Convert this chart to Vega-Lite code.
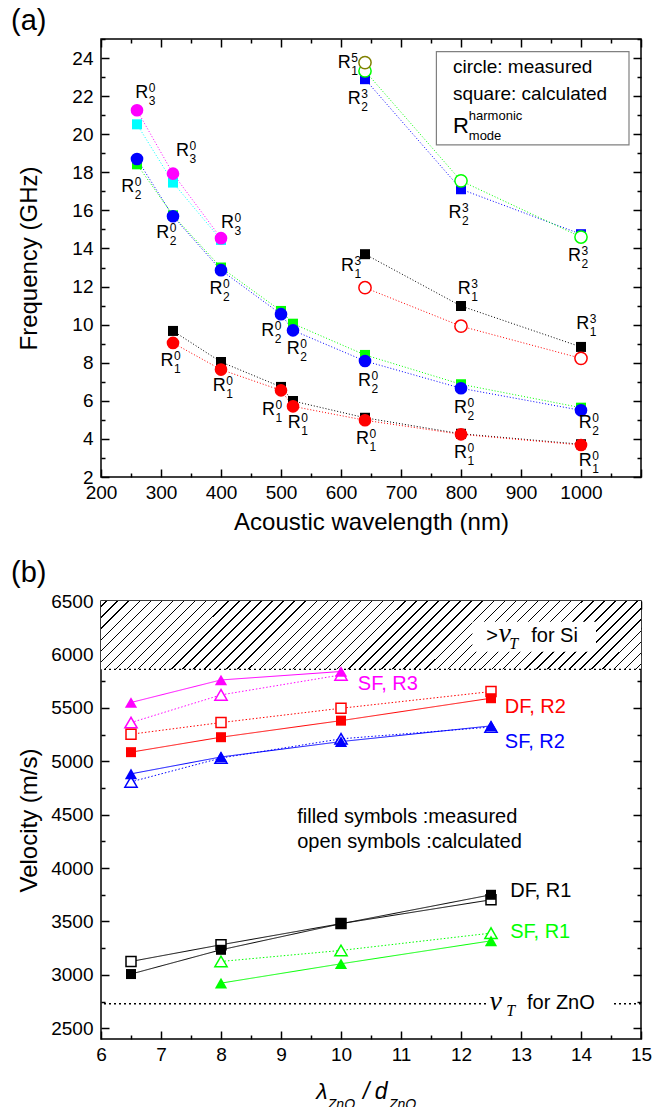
{
"$schema":"https://vega.github.io/schema/vega-lite/v6.json",
"background":"white",
"padding":{"left":10,"top":6,"right":5,"bottom":0},
"spacing":23,
"config":{
 "view":{"stroke":"black","strokeWidth":1.5},
 "font":"Liberation Sans",
 "axis":{"grid":false,"domain":false,"tickColor":"black","tickWidth":1.5,"labelFont":"Liberation Sans","labelFontSize":19,"labelColor":"black","titleFont":"Liberation Sans","titleFontSize":24,"titleFontWeight":"normal","titleColor":"black","labelFlush":false,"labelOverlap":false,"labelBound":false,"format":"d"},
 "title":{"font":"Liberation Sans","fontSize":29,"fontWeight":"normal","anchor":"start","frame":"group","dx":-90,"color":"black"}
},
"resolve":{"scale":{"color":"independent","shape":"independent","size":"independent","strokeDash":"independent"}},
"datasets":{
 "a":[
  {"s":"a_R3m","x":260,"y":21.26,"shp":"c","f":true},{"s":"a_R3m","x":320,"y":17.93,"shp":"c","f":true},{"s":"a_R3m","x":400,"y":14.54,"shp":"c","f":true},
  {"s":"a_R3c","x":260,"y":20.52,"shp":"s","f":true},{"s":"a_R3c","x":320,"y":17.46,"shp":"s","f":true},{"s":"a_R3c","x":400,"y":14.45,"shp":"s","f":true},
  {"s":"a_R2m","x":260,"y":18.7,"shp":"c","f":true},{"s":"a_R2m","x":320,"y":15.69,"shp":"c","f":true},{"s":"a_R2m","x":400,"y":12.86,"shp":"c","f":true},{"s":"a_R2m","x":500,"y":10.55,"shp":"c","f":true},{"s":"a_R2m","x":520,"y":9.7,"shp":"c","f":true},{"s":"a_R2m","x":640,"y":8.09,"shp":"c","f":true},{"s":"a_R2m","x":800,"y":6.66,"shp":"c","f":true},{"s":"a_R2m","x":1000,"y":5.5,"shp":"c","f":true},
  {"s":"a_R2c","x":260,"y":18.42,"shp":"s","f":true},{"s":"a_R2c","x":320,"y":15.74,"shp":"s","f":true},{"s":"a_R2c","x":400,"y":13.0,"shp":"s","f":true},{"s":"a_R2c","x":500,"y":10.72,"shp":"s","f":true},{"s":"a_R2c","x":520,"y":10.05,"shp":"s","f":true},{"s":"a_R2c","x":640,"y":8.41,"shp":"s","f":true},{"s":"a_R2c","x":800,"y":6.87,"shp":"s","f":true},{"s":"a_R2c","x":1000,"y":5.64,"shp":"s","f":true},
  {"s":"a_R1c","x":320,"y":9.67,"shp":"s","f":true},{"s":"a_R1c","x":400,"y":8.04,"shp":"s","f":true},{"s":"a_R1c","x":500,"y":6.73,"shp":"s","f":true},{"s":"a_R1c","x":520,"y":5.99,"shp":"s","f":true},{"s":"a_R1c","x":640,"y":5.11,"shp":"s","f":true},{"s":"a_R1c","x":800,"y":4.27,"shp":"s","f":true},{"s":"a_R1c","x":1000,"y":3.72,"shp":"s","f":true},
  {"s":"a_R1m","x":320,"y":9.04,"shp":"c","f":true},{"s":"a_R1m","x":400,"y":7.64,"shp":"c","f":true},{"s":"a_R1m","x":500,"y":6.55,"shp":"c","f":true},{"s":"a_R1m","x":520,"y":5.71,"shp":"c","f":true},{"s":"a_R1m","x":640,"y":4.98,"shp":"c","f":true},{"s":"a_R1m","x":800,"y":4.24,"shp":"c","f":true},{"s":"a_R1m","x":1000,"y":3.68,"shp":"c","f":true},
  {"s":"a_R13c","x":640,"y":13.7,"shp":"s","f":true},{"s":"a_R13c","x":800,"y":10.98,"shp":"s","f":true},{"s":"a_R13c","x":1000,"y":8.83,"shp":"s","f":true},
  {"s":"a_R13m","x":640,"y":11.94,"shp":"c","f":false},{"s":"a_R13m","x":800,"y":9.92,"shp":"c","f":false},{"s":"a_R13m","x":1000,"y":8.23,"shp":"c","f":false},
  {"s":"a_R23c","x":640,"y":22.89,"shp":"s","f":true},{"s":"a_R23c","x":800,"y":17.11,"shp":"s","f":true},{"s":"a_R23c","x":1000,"y":14.75,"shp":"s","f":true},
  {"s":"a_R23m","x":640,"y":23.32,"shp":"c","f":false},{"s":"a_R23m","x":800,"y":17.55,"shp":"c","f":false},{"s":"a_R23m","x":1000,"y":14.6,"shp":"c","f":false},
  {"s":"a_R15m","x":640,"y":23.76,"shp":"c","f":false}
 ],
 "alab":[
  {"x":268,"y":22.18,"h":"0","m":"3"},{"x":336,"y":19.12,"h":"0","m":"3"},{"x":411,"y":15.36,"h":"0","m":"3"},
  {"x":244.5,"y":17.23,"h":"0","m":"2"},{"x":303,"y":14.83,"h":"0","m":"2"},{"x":391.5,"y":11.86,"h":"0","m":"2"},{"x":478,"y":9.67,"h":"0","m":"2"},{"x":520.5,"y":8.71,"h":"0","m":"2"},
  {"x":310,"y":8.09,"h":"0","m":"1"},{"x":397,"y":6.78,"h":"0","m":"1"},{"x":479,"y":5.5,"h":"0","m":"1"},{"x":522,"y":4.85,"h":"0","m":"1"},
  {"x":639,"y":7.04,"h":"0","m":"2"},{"x":636,"y":3.98,"h":"0","m":"1"},{"x":799,"y":5.61,"h":"0","m":"2"},{"x":799,"y":3.28,"h":"0","m":"1"},{"x":1007,"y":4.85,"h":"0","m":"2"},{"x":1007,"y":2.84,"h":"0","m":"1"},
  {"x":1003,"y":10.02,"h":"3","m":"1"},{"x":805.5,"y":11.86,"h":"3","m":"1"},{"x":605.5,"y":23.76,"h":"5","m":"1"},{"x":622,"y":21.84,"h":"3","m":"2"},{"x":790,"y":15.88,"h":"3","m":"2"},{"x":989,"y":13.61,"h":"3","m":"2"},{"x":611,"y":13.08,"h":"3","m":"1"}
 ],
 "aleg":[
  {"t":"circle: measured","x":786.6,"y":23.53,"k":"n"},{"t":"square: calculated","x":786.6,"y":22.13,"k":"n"},{"t":"R","x":786.6,"y":20.43,"k":"R"},{"t":"harmonic","x":813,"y":20.96,"k":"s"},{"t":"mode","x":813,"y":19.91,"k":"s"}
 ],
 "b":[
  {"s":"b_SF3c","x":6.5,"y":5362,"shp":"t","f":false,"d":"dot"},{"s":"b_SF3c","x":8,"y":5621,"shp":"t","f":false,"d":"dot"},{"s":"b_SF3c","x":10,"y":5808,"shp":"t","f":false,"d":"dot"},
  {"s":"b_SF3m","x":6.5,"y":5550,"shp":"t","f":true,"d":"solid"},{"s":"b_SF3m","x":8,"y":5761,"shp":"t","f":true,"d":"solid"},{"s":"b_SF3m","x":10,"y":5840,"shp":"t","f":true,"d":"solid"},
  {"s":"b_DF2c","x":6.5,"y":5253,"shp":"s","f":false,"d":"dot"},{"s":"b_DF2c","x":8,"y":5362,"shp":"s","f":false,"d":"dot"},{"s":"b_DF2c","x":10,"y":5496,"shp":"s","f":false,"d":"dot"},{"s":"b_DF2c","x":12.5,"y":5652,"shp":"s","f":false,"d":"dot"},
  {"s":"b_DF2m","x":6.5,"y":5085,"shp":"s","f":true,"d":"solid"},{"s":"b_DF2m","x":8,"y":5225,"shp":"s","f":true,"d":"solid"},{"s":"b_DF2m","x":10,"y":5380,"shp":"s","f":true,"d":"solid"},{"s":"b_DF2m","x":12.5,"y":5590,"shp":"s","f":true,"d":"solid"},
  {"s":"b_SF2c","x":6.5,"y":4807,"shp":"t","f":false,"d":"dot"},{"s":"b_SF2c","x":8,"y":5030,"shp":"t","f":false,"d":"dot"},{"s":"b_SF2c","x":10,"y":5210,"shp":"t","f":false,"d":"dot"},{"s":"b_SF2c","x":12.5,"y":5320,"shp":"t","f":false,"d":"dot"},
  {"s":"b_SF2m","x":6.5,"y":4882,"shp":"t","f":true,"d":"solid"},{"s":"b_SF2m","x":8,"y":5040,"shp":"t","f":true,"d":"solid"},{"s":"b_SF2m","x":10,"y":5184,"shp":"t","f":true,"d":"solid"},{"s":"b_SF2m","x":12.5,"y":5331,"shp":"t","f":true,"d":"solid"},
  {"s":"b_DF1c","x":6.5,"y":3126,"shp":"s","f":false,"d":"solid"},{"s":"b_DF1c","x":8,"y":3282,"shp":"s","f":false,"d":"solid"},{"s":"b_DF1c","x":10,"y":3480,"shp":"s","f":false,"d":"solid"},{"s":"b_DF1c","x":12.5,"y":3703,"shp":"s","f":false,"d":"solid"},
  {"s":"b_DF1m","x":6.5,"y":3008,"shp":"s","f":true,"d":"solid"},{"s":"b_DF1m","x":8,"y":3235,"shp":"s","f":true,"d":"solid"},{"s":"b_DF1m","x":10,"y":3479,"shp":"s","f":true,"d":"solid"},{"s":"b_DF1m","x":12.5,"y":3750,"shp":"s","f":true,"d":"solid"},
  {"s":"b_SF1c","x":8,"y":3126,"shp":"t","f":false,"d":"dot"},{"s":"b_SF1c","x":10,"y":3229,"shp":"t","f":false,"d":"dot"},{"s":"b_SF1c","x":12.5,"y":3391,"shp":"t","f":false,"d":"dot"},
  {"s":"b_SF1m","x":8,"y":2923,"shp":"t","f":true,"d":"solid"},{"s":"b_SF1m","x":10,"y":3104,"shp":"t","f":true,"d":"solid"},{"s":"b_SF1m","x":12.5,"y":3319,"shp":"t","f":true,"d":"solid"}
 ],
 "bt":[
  {"t":"SF, R3","x":10.28,"y":5724,"s":"b_SF3m"},{"t":"DF, R2","x":12.73,"y":5511,"s":"b_DF2m"},{"t":"SF, R2","x":12.73,"y":5184,"s":"b_SF2m"},
  {"t":"DF, R1","x":12.82,"y":3787,"s":"b_DF1m"},{"t":"SF, R1","x":12.82,"y":3397,"s":"b_SF1m"},
  {"t":"filled symbols :measured","x":9.27,"y":4477,"s":"b_DF1m"},{"t":"open symbols :calculated","x":9.27,"y":4248,"s":"b_DF1m"},
  {"t":">","x":12.42,"y":6173,"s":"b_DF1m"},{"t":"for Si","x":13.17,"y":6173,"s":"b_DF1m"},{"t":"for ZnO","x":13.1,"y":2735,"s":"b_DF1m"}
 ],
 "bv":[{"x":12.73,"y":6119},{"x":12.58,"y":2674}],
 "bT":[{"x":12.88,"y":6098},{"x":12.83,"y":2665}],
 "bl":[{"t":"λ","x":9.68,"y":1907},{"t":"/","x":10.42,"y":1907},{"t":"d","x":10.67,"y":1907}],
 "bs":[{"t":"ZnO","x":9.78,"y":1785},{"t":"ZnO","x":10.8,"y":1785}]
},
"vconcat":[
{
 "title":{"text":"(a)","offset":-6},
 "width":540,"height":438,
 "resolve":{"axis":{"x":"independent","y":"independent"}},
 "layer":[
  {"data":{"values":[{}]},"mark":{"type":"rect","fill":"white","stroke":"#808080","strokeWidth":1.2},
   "encoding":{"x":{"datum":759,"type":"quantitative","axis":null,"scale":{"domain":[200,1100],"nice":false,"zero":false}},"x2":{"datum":1080},"y":{"datum":24.34,"type":"quantitative","axis":null,"scale":{"domain":[2,25],"nice":false,"zero":false}},"y2":{"datum":19.44}}},
  {"data":{"name":"a"},"mark":{"type":"line","strokeWidth":1,"strokeDash":[1,2]},
   "encoding":{
    "x":{"field":"x","type":"quantitative","scale":{"domain":[200,1100],"nice":false,"zero":false},
     "axis":{"orient":"bottom","values":[200,250,300,350,400,450,500,550,600,650,700,750,800,850,900,950,1000,1050,1100],"tickSize":{"condition":{"test":"datum.value % 100 === 0","value":-8},"value":-4},"labelExpr":"datum.value % 100 === 0 && datum.value <= 1000 ? datum.label : ''","labelPadding":14,"title":"Acoustic wavelength (nm)","titleY":45,"titleBaseline":"middle"}},
    "y":{"field":"y","type":"quantitative","scale":{"domain":[2,25],"nice":false,"zero":false},
     "axis":{"orient":"left","values":[2,3,4,5,6,7,8,9,10,11,12,13,14,15,16,17,18,19,20,21,22,23,24,25],"tickSize":{"condition":{"test":"datum.value % 2 === 0","value":-8},"value":-4},"labelExpr":"datum.value % 2 === 0 ? datum.label : ''","labelPadding":16,"title":"Frequency (GHz)","titleX":-72,"titleY":219,"titleAngle":-90,"titleAlign":"center","titleBaseline":"middle"}},
    "color":{"field":"s","type":"nominal","legend":null,"scale":{"domain":["a_R3m","a_R3c","a_R2m","a_R2c","a_R1c","a_R1m","a_R13c","a_R13m","a_R23c","a_R23m","a_R15m"],"range":["#ff00ff","#00ffff","#0000ff","#00ff00","#000000","#ff0000","#000000","#ff0000","#0000ff","#00ff00","#808000"]}}
   }},
  {"data":{"name":"a"},"transform":[{"filter":"datum.shp === 's'"}],"mark":{"type":"square","size":100,"opacity":1},
   "encoding":{"x":{"field":"x","type":"quantitative","axis":null},"y":{"field":"y","type":"quantitative","axis":null},
    "color":{"field":"s","type":"nominal","legend":null,"scale":{"domain":["a_R3m","a_R3c","a_R2m","a_R2c","a_R1c","a_R1m","a_R13c","a_R13m","a_R23c","a_R23m","a_R15m"],"range":["#ff00ff","#00ffff","#0000ff","#00ff00","#000000","#ff0000","#000000","#ff0000","#0000ff","#00ff00","#808000"]}}}},
  {"data":{"name":"a"},"transform":[{"filter":"datum.shp === 'c' && datum.f"}],"mark":{"type":"circle","size":160,"opacity":1},
   "encoding":{"x":{"field":"x","type":"quantitative","axis":null},"y":{"field":"y","type":"quantitative","axis":null},
    "color":{"field":"s","type":"nominal","legend":null,"scale":{"domain":["a_R3m","a_R3c","a_R2m","a_R2c","a_R1c","a_R1m","a_R13c","a_R13m","a_R23c","a_R23m","a_R15m"],"range":["#ff00ff","#00ffff","#0000ff","#00ff00","#000000","#ff0000","#000000","#ff0000","#0000ff","#00ff00","#808000"]}}}},
  {"data":{"name":"a"},"transform":[{"filter":"datum.shp === 'c' && !datum.f"}],"mark":{"type":"point","shape":"circle","filled":false,"fill":"white","size":150,"strokeWidth":1.5,"opacity":1},
   "encoding":{"x":{"field":"x","type":"quantitative","axis":null},"y":{"field":"y","type":"quantitative","axis":null},
    "color":{"field":"s","type":"nominal","legend":null,"scale":{"domain":["a_R3m","a_R3c","a_R2m","a_R2c","a_R1c","a_R1m","a_R13c","a_R13m","a_R23c","a_R23m","a_R15m"],"range":["#ff00ff","#00ffff","#0000ff","#00ff00","#000000","#ff0000","#000000","#ff0000","#0000ff","#00ff00","#808000"]}}}},
  {"data":{"name":"aleg"},"transform":[{"filter":"datum.k === 'n'"}],"mark":{"type":"text","fontSize":19,"align":"left","baseline":"middle","color":"black"},
   "encoding":{"x":{"field":"x","type":"quantitative","axis":null},"y":{"field":"y","type":"quantitative","axis":null},"text":{"field":"t"}}},
  {"data":{"name":"aleg"},"transform":[{"filter":"datum.k === 'R'"}],"mark":{"type":"text","fontSize":22,"align":"left","baseline":"middle","color":"black"},
   "encoding":{"x":{"field":"x","type":"quantitative","axis":null},"y":{"field":"y","type":"quantitative","axis":null},"text":{"field":"t"}}},
  {"data":{"name":"aleg"},"transform":[{"filter":"datum.k === 's'"}],"mark":{"type":"text","fontSize":13,"align":"left","baseline":"middle","color":"black"},
   "encoding":{"x":{"field":"x","type":"quantitative","axis":null},"y":{"field":"y","type":"quantitative","axis":null},"text":{"field":"t"}}},
  {"data":{"name":"alab"},"mark":{"type":"text","fontSize":18,"align":"center","baseline":"middle","color":"black","text":"R"},
   "encoding":{"x":{"field":"x","type":"quantitative","axis":null},"y":{"field":"y","type":"quantitative","axis":null}}},
  {"data":{"name":"alab"},"mark":{"type":"text","fontSize":12,"align":"left","baseline":"middle","color":"black","dx":7,"dy":-5},
   "encoding":{"x":{"field":"x","type":"quantitative","axis":null},"y":{"field":"y","type":"quantitative","axis":null},"text":{"field":"h"}}},
  {"data":{"name":"alab"},"mark":{"type":"text","fontSize":12,"align":"left","baseline":"middle","color":"black","dx":7,"dy":8},
   "encoding":{"x":{"field":"x","type":"quantitative","axis":null},"y":{"field":"y","type":"quantitative","axis":null},"text":{"field":"m"}}},
  {"data":{"name":"a"},"mark":{"type":"point","opacity":0},
   "encoding":{
    "x":{"field":"x","type":"quantitative","axis":{"orient":"top","values":[200,250,300,350,400,450,500,550,600,650,700,750,800,850,900,950,1000,1050,1100],"tickSize":{"condition":{"test":"datum.value % 100 === 0","value":-8},"value":-4},"labels":false,"title":null}},
    "y":{"field":"y","type":"quantitative","axis":{"orient":"right","values":[2,3,4,5,6,7,8,9,10,11,12,13,14,15,16,17,18,19,20,21,22,23,24,25],"tickSize":{"condition":{"test":"datum.value % 2 === 0","value":-8},"value":-4},"labels":false,"title":null}}}}
 ]
},
{
 "title":{"text":"(b)","offset":4},
 "width":540,"height":438,
 "resolve":{"axis":{"x":"independent","y":"independent"}},
 "layer":[
  {"data":{"values":[{}]},"mark":{"type":"rect","fill":{"gradient":"linear","x1":0,"y1":0,"x2":1.1089,"y2":0.1405,"stops":[
{"offset":0.008,"color":"#fff"},{"offset":0.008,"color":"#000"},{"offset":0.0104,"color":"#000"},{"offset":0.0104,"color":"#fff"},
{"offset":0.02618,"color":"#fff"},{"offset":0.02618,"color":"#000"},{"offset":0.02858,"color":"#000"},{"offset":0.02858,"color":"#fff"},
{"offset":0.04436,"color":"#fff"},{"offset":0.04436,"color":"#000"},{"offset":0.04676,"color":"#000"},{"offset":0.04676,"color":"#fff"},
{"offset":0.06255,"color":"#fff"},{"offset":0.06255,"color":"#000"},{"offset":0.06495,"color":"#000"},{"offset":0.06495,"color":"#fff"},
{"offset":0.08073,"color":"#fff"},{"offset":0.08073,"color":"#000"},{"offset":0.08313,"color":"#000"},{"offset":0.08313,"color":"#fff"},
{"offset":0.09891,"color":"#fff"},{"offset":0.09891,"color":"#000"},{"offset":0.10131,"color":"#000"},{"offset":0.10131,"color":"#fff"},
{"offset":0.11709,"color":"#fff"},{"offset":0.11709,"color":"#000"},{"offset":0.11949,"color":"#000"},{"offset":0.11949,"color":"#fff"},
{"offset":0.13527,"color":"#fff"},{"offset":0.13527,"color":"#000"},{"offset":0.13767,"color":"#000"},{"offset":0.13767,"color":"#fff"},
{"offset":0.15345,"color":"#fff"},{"offset":0.15345,"color":"#000"},{"offset":0.15585,"color":"#000"},{"offset":0.15585,"color":"#fff"},
{"offset":0.17164,"color":"#fff"},{"offset":0.17164,"color":"#000"},{"offset":0.17404,"color":"#000"},{"offset":0.17404,"color":"#fff"},
{"offset":0.18982,"color":"#fff"},{"offset":0.18982,"color":"#000"},{"offset":0.19222,"color":"#000"},{"offset":0.19222,"color":"#fff"},
{"offset":0.208,"color":"#fff"},{"offset":0.208,"color":"#000"},{"offset":0.2104,"color":"#000"},{"offset":0.2104,"color":"#fff"},
{"offset":0.22618,"color":"#fff"},{"offset":0.22618,"color":"#000"},{"offset":0.22858,"color":"#000"},{"offset":0.22858,"color":"#fff"},
{"offset":0.24436,"color":"#fff"},{"offset":0.24436,"color":"#000"},{"offset":0.24676,"color":"#000"},{"offset":0.24676,"color":"#fff"},
{"offset":0.26255,"color":"#fff"},{"offset":0.26255,"color":"#000"},{"offset":0.26495,"color":"#000"},{"offset":0.26495,"color":"#fff"},
{"offset":0.28073,"color":"#fff"},{"offset":0.28073,"color":"#000"},{"offset":0.28313,"color":"#000"},{"offset":0.28313,"color":"#fff"},
{"offset":0.29891,"color":"#fff"},{"offset":0.29891,"color":"#000"},{"offset":0.30131,"color":"#000"},{"offset":0.30131,"color":"#fff"},
{"offset":0.31709,"color":"#fff"},{"offset":0.31709,"color":"#000"},{"offset":0.31949,"color":"#000"},{"offset":0.31949,"color":"#fff"},
{"offset":0.33527,"color":"#fff"},{"offset":0.33527,"color":"#000"},{"offset":0.33767,"color":"#000"},{"offset":0.33767,"color":"#fff"},
{"offset":0.35345,"color":"#fff"},{"offset":0.35345,"color":"#000"},{"offset":0.35585,"color":"#000"},{"offset":0.35585,"color":"#fff"},
{"offset":0.37164,"color":"#fff"},{"offset":0.37164,"color":"#000"},{"offset":0.37404,"color":"#000"},{"offset":0.37404,"color":"#fff"},
{"offset":0.38982,"color":"#fff"},{"offset":0.38982,"color":"#000"},{"offset":0.39222,"color":"#000"},{"offset":0.39222,"color":"#fff"},
{"offset":0.408,"color":"#fff"},{"offset":0.408,"color":"#000"},{"offset":0.4104,"color":"#000"},{"offset":0.4104,"color":"#fff"},
{"offset":0.42618,"color":"#fff"},{"offset":0.42618,"color":"#000"},{"offset":0.42858,"color":"#000"},{"offset":0.42858,"color":"#fff"},
{"offset":0.44436,"color":"#fff"},{"offset":0.44436,"color":"#000"},{"offset":0.44676,"color":"#000"},{"offset":0.44676,"color":"#fff"},
{"offset":0.46255,"color":"#fff"},{"offset":0.46255,"color":"#000"},{"offset":0.46495,"color":"#000"},{"offset":0.46495,"color":"#fff"},
{"offset":0.48073,"color":"#fff"},{"offset":0.48073,"color":"#000"},{"offset":0.48313,"color":"#000"},{"offset":0.48313,"color":"#fff"},
{"offset":0.49891,"color":"#fff"},{"offset":0.49891,"color":"#000"},{"offset":0.50131,"color":"#000"},{"offset":0.50131,"color":"#fff"},
{"offset":0.51709,"color":"#fff"},{"offset":0.51709,"color":"#000"},{"offset":0.51949,"color":"#000"},{"offset":0.51949,"color":"#fff"},
{"offset":0.53527,"color":"#fff"},{"offset":0.53527,"color":"#000"},{"offset":0.53767,"color":"#000"},{"offset":0.53767,"color":"#fff"},
{"offset":0.55345,"color":"#fff"},{"offset":0.55345,"color":"#000"},{"offset":0.55585,"color":"#000"},{"offset":0.55585,"color":"#fff"},
{"offset":0.57164,"color":"#fff"},{"offset":0.57164,"color":"#000"},{"offset":0.57404,"color":"#000"},{"offset":0.57404,"color":"#fff"},
{"offset":0.58982,"color":"#fff"},{"offset":0.58982,"color":"#000"},{"offset":0.59222,"color":"#000"},{"offset":0.59222,"color":"#fff"},
{"offset":0.608,"color":"#fff"},{"offset":0.608,"color":"#000"},{"offset":0.6104,"color":"#000"},{"offset":0.6104,"color":"#fff"},
{"offset":0.62618,"color":"#fff"},{"offset":0.62618,"color":"#000"},{"offset":0.62858,"color":"#000"},{"offset":0.62858,"color":"#fff"},
{"offset":0.64436,"color":"#fff"},{"offset":0.64436,"color":"#000"},{"offset":0.64676,"color":"#000"},{"offset":0.64676,"color":"#fff"},
{"offset":0.66255,"color":"#fff"},{"offset":0.66255,"color":"#000"},{"offset":0.66495,"color":"#000"},{"offset":0.66495,"color":"#fff"},
{"offset":0.68073,"color":"#fff"},{"offset":0.68073,"color":"#000"},{"offset":0.68313,"color":"#000"},{"offset":0.68313,"color":"#fff"},
{"offset":0.69891,"color":"#fff"},{"offset":0.69891,"color":"#000"},{"offset":0.70131,"color":"#000"},{"offset":0.70131,"color":"#fff"},
{"offset":0.71709,"color":"#fff"},{"offset":0.71709,"color":"#000"},{"offset":0.71949,"color":"#000"},{"offset":0.71949,"color":"#fff"},
{"offset":0.73527,"color":"#fff"},{"offset":0.73527,"color":"#000"},{"offset":0.73767,"color":"#000"},{"offset":0.73767,"color":"#fff"},
{"offset":0.75345,"color":"#fff"},{"offset":0.75345,"color":"#000"},{"offset":0.75585,"color":"#000"},{"offset":0.75585,"color":"#fff"},
{"offset":0.77164,"color":"#fff"},{"offset":0.77164,"color":"#000"},{"offset":0.77404,"color":"#000"},{"offset":0.77404,"color":"#fff"},
{"offset":0.78982,"color":"#fff"},{"offset":0.78982,"color":"#000"},{"offset":0.79222,"color":"#000"},{"offset":0.79222,"color":"#fff"},
{"offset":0.808,"color":"#fff"},{"offset":0.808,"color":"#000"},{"offset":0.8104,"color":"#000"},{"offset":0.8104,"color":"#fff"},
{"offset":0.82618,"color":"#fff"},{"offset":0.82618,"color":"#000"},{"offset":0.82858,"color":"#000"},{"offset":0.82858,"color":"#fff"},
{"offset":0.84436,"color":"#fff"},{"offset":0.84436,"color":"#000"},{"offset":0.84676,"color":"#000"},{"offset":0.84676,"color":"#fff"},
{"offset":0.86255,"color":"#fff"},{"offset":0.86255,"color":"#000"},{"offset":0.86495,"color":"#000"},{"offset":0.86495,"color":"#fff"},
{"offset":0.88073,"color":"#fff"},{"offset":0.88073,"color":"#000"},{"offset":0.88313,"color":"#000"},{"offset":0.88313,"color":"#fff"},
{"offset":0.89891,"color":"#fff"},{"offset":0.89891,"color":"#000"},{"offset":0.90131,"color":"#000"},{"offset":0.90131,"color":"#fff"},
{"offset":0.91709,"color":"#fff"},{"offset":0.91709,"color":"#000"},{"offset":0.91949,"color":"#000"},{"offset":0.91949,"color":"#fff"},
{"offset":0.93527,"color":"#fff"},{"offset":0.93527,"color":"#000"},{"offset":0.93767,"color":"#000"},{"offset":0.93767,"color":"#fff"},
{"offset":0.95345,"color":"#fff"},{"offset":0.95345,"color":"#000"},{"offset":0.95585,"color":"#000"},{"offset":0.95585,"color":"#fff"},
{"offset":0.97164,"color":"#fff"},{"offset":0.97164,"color":"#000"},{"offset":0.97404,"color":"#000"},{"offset":0.97404,"color":"#fff"},
{"offset":0.98982,"color":"#fff"},{"offset":0.98982,"color":"#000"},{"offset":0.99222,"color":"#000"},{"offset":0.99222,"color":"#fff"}
]}},
   "encoding":{"x":{"datum":6,"type":"quantitative","axis":null,"scale":{"domain":[6,15],"nice":false,"zero":false}},"x2":{"datum":15},"y":{"datum":5860,"type":"quantitative","axis":null,"scale":{"domain":[2400,6500],"nice":false,"zero":false}},"y2":{"datum":6500}}},
  {"data":{"values":[{}]},"mark":{"type":"rule","color":"black","strokeWidth":1.3,"strokeDash":[2,3]},"encoding":{"y":{"datum":5860,"type":"quantitative","axis":null}}},
  {"data":{"values":[{}]},"mark":{"type":"rule","color":"black","strokeWidth":1.3,"strokeDash":[2,3]},"encoding":{"y":{"datum":2730,"type":"quantitative","axis":null}}},
  {"data":{"values":[{}]},"mark":{"type":"rect","fill":"white"},"encoding":{"x":{"datum":12.19,"type":"quantitative","axis":null},"x2":{"datum":14.25},"y":{"datum":6026,"type":"quantitative","axis":null},"y2":{"datum":6306}}},
  {"data":{"values":[{}]},"mark":{"type":"rect","fill":"white"},"encoding":{"x":{"datum":12.45,"type":"quantitative","axis":null},"x2":{"datum":14.53},"y":{"datum":2650,"type":"quantitative","axis":null},"y2":{"datum":2810}}},
  {"data":{"name":"b"},"mark":{"type":"line","strokeWidth":1},
   "encoding":{
    "x":{"field":"x","type":"quantitative","scale":{"domain":[6,15],"nice":false,"zero":false},
     "axis":{"orient":"bottom","values":[6,6.5,7,7.5,8,8.5,9,9.5,10,10.5,11,11.5,12,12.5,13,13.5,14,14.5,15],"tickSize":{"condition":{"test":"datum.value % 1 === 0","value":-8},"value":-4},"labelExpr":"datum.value % 1 === 0 ? datum.label : ''","labelPadding":14,"title":null}},
    "y":{"field":"y","type":"quantitative","scale":{"domain":[2400,6500],"nice":false,"zero":false},
     "axis":{"orient":"left","values":[2500,2750,3000,3250,3500,3750,4000,4250,4500,4750,5000,5250,5500,5750,6000,6250,6500],"tickSize":{"condition":{"test":"datum.value % 500 === 0","value":-8},"value":-4},"labelExpr":"datum.value % 500 === 0 ? datum.label : ''","labelPadding":16,"title":"Velocity (m/s)","titleX":-72,"titleY":219,"titleAngle":-90,"titleAlign":"center","titleBaseline":"middle"}},
    "color":{"field":"s","type":"nominal","legend":null,"scale":{"domain":["b_SF3m","b_SF3c","b_DF2c","b_DF2m","b_SF2m","b_SF2c","b_DF1m","b_DF1c","b_SF1m","b_SF1c"],"range":["#ff00ff","#ff00ff","#ff0000","#ff0000","#0000ff","#0000ff","#000000","#000000","#00ff00","#00ff00"]}},
    "strokeDash":{"field":"d","type":"nominal","legend":null,"scale":{"domain":["solid","dot"],"range":[[1,0],[1.5,2]]}}
   }},
  {"data":{"name":"b"},"transform":[{"filter":"!datum.f"}],"mark":{"type":"point","filled":false,"fill":"white","strokeWidth":1.5,"opacity":1},
   "encoding":{"x":{"field":"x","type":"quantitative","axis":null},"y":{"field":"y","type":"quantitative","axis":null},
    "color":{"field":"s","type":"nominal","legend":null,"scale":{"domain":["b_SF3m","b_SF3c","b_DF2c","b_DF2m","b_SF2m","b_SF2c","b_DF1m","b_DF1c","b_SF1m","b_SF1c"],"range":["#ff00ff","#ff00ff","#ff0000","#ff0000","#0000ff","#0000ff","#000000","#000000","#00ff00","#00ff00"]}},
    "shape":{"field":"shp","type":"nominal","legend":null,"scale":{"domain":["s","t"],"range":["square","triangle-up"]}},
    "size":{"field":"shp","type":"ordinal","legend":null,"scale":{"domain":["s","t"],"range":[100,150]}}}},
  {"data":{"name":"b"},"transform":[{"filter":"datum.f"}],"mark":{"type":"point","filled":true,"opacity":1},
   "encoding":{"x":{"field":"x","type":"quantitative","axis":null},"y":{"field":"y","type":"quantitative","axis":null},
    "color":{"field":"s","type":"nominal","legend":null,"scale":{"domain":["b_SF3m","b_SF3c","b_DF2c","b_DF2m","b_SF2m","b_SF2c","b_DF1m","b_DF1c","b_SF1m","b_SF1c"],"range":["#ff00ff","#ff00ff","#ff0000","#ff0000","#0000ff","#0000ff","#000000","#000000","#00ff00","#00ff00"]}},
    "shape":{"field":"shp","type":"nominal","legend":null,"scale":{"domain":["s","t"],"range":["square","triangle-up"]}},
    "size":{"field":"shp","type":"ordinal","legend":null,"scale":{"domain":["s","t"],"range":[100,150]}}}},
  {"data":{"name":"bt"},"mark":{"type":"text","fontSize":20,"align":"left","baseline":"middle"},
   "encoding":{"x":{"field":"x","type":"quantitative","axis":null},"y":{"field":"y","type":"quantitative","axis":null},"text":{"field":"t"},
    "color":{"field":"s","type":"nominal","legend":null,"scale":{"domain":["b_SF3m","b_SF3c","b_DF2c","b_DF2m","b_SF2m","b_SF2c","b_DF1m","b_DF1c","b_SF1m","b_SF1c"],"range":["#ff00ff","#ff00ff","#ff0000","#ff0000","#0000ff","#0000ff","#000000","#000000","#00ff00","#00ff00"]}}}},
  {"data":{"name":"bv"},"mark":{"type":"text","text":"v","font":"Liberation Serif","fontStyle":"italic","fontSize":28,"align":"center","baseline":"alphabetic","color":"black"},
   "encoding":{"x":{"field":"x","type":"quantitative","axis":null},"y":{"field":"y","type":"quantitative","axis":null}}},
  {"data":{"name":"bT"},"mark":{"type":"text","text":"T","font":"Liberation Serif","fontStyle":"italic","fontSize":16,"align":"center","baseline":"middle","color":"black"},
   "encoding":{"x":{"field":"x","type":"quantitative","axis":null},"y":{"field":"y","type":"quantitative","axis":null}}},
  {"data":{"name":"bl"},"mark":{"type":"text","fontStyle":"italic","fontSize":23,"align":"center","baseline":"middle","color":"black"},
   "encoding":{"x":{"field":"x","type":"quantitative","axis":null},"y":{"field":"y","type":"quantitative","axis":null},"text":{"field":"t"}}},
  {"data":{"name":"bs"},"mark":{"type":"text","fontStyle":"italic","fontSize":14,"align":"left","baseline":"middle","color":"black"},
   "encoding":{"x":{"field":"x","type":"quantitative","axis":null},"y":{"field":"y","type":"quantitative","axis":null},"text":{"field":"t"}}},
  {"data":{"name":"b"},"mark":{"type":"point","opacity":0},
   "encoding":{
    "x":{"field":"x","type":"quantitative","axis":{"orient":"top","values":[6,6.5,7,7.5,8,8.5,9,9.5,10,10.5,11,11.5,12,12.5,13,13.5,14,14.5,15],"tickSize":{"condition":{"test":"datum.value % 1 === 0","value":-8},"value":-4},"labels":false,"title":null}},
    "y":{"field":"y","type":"quantitative","axis":{"orient":"right","values":[2500,2750,3000,3250,3500,3750,4000,4250,4500,4750,5000,5250,5500,5750,6000,6250,6500],"tickSize":{"condition":{"test":"datum.value % 500 === 0","value":-8},"value":-4},"labels":false,"title":null}}}}
 ]
}
]
}
